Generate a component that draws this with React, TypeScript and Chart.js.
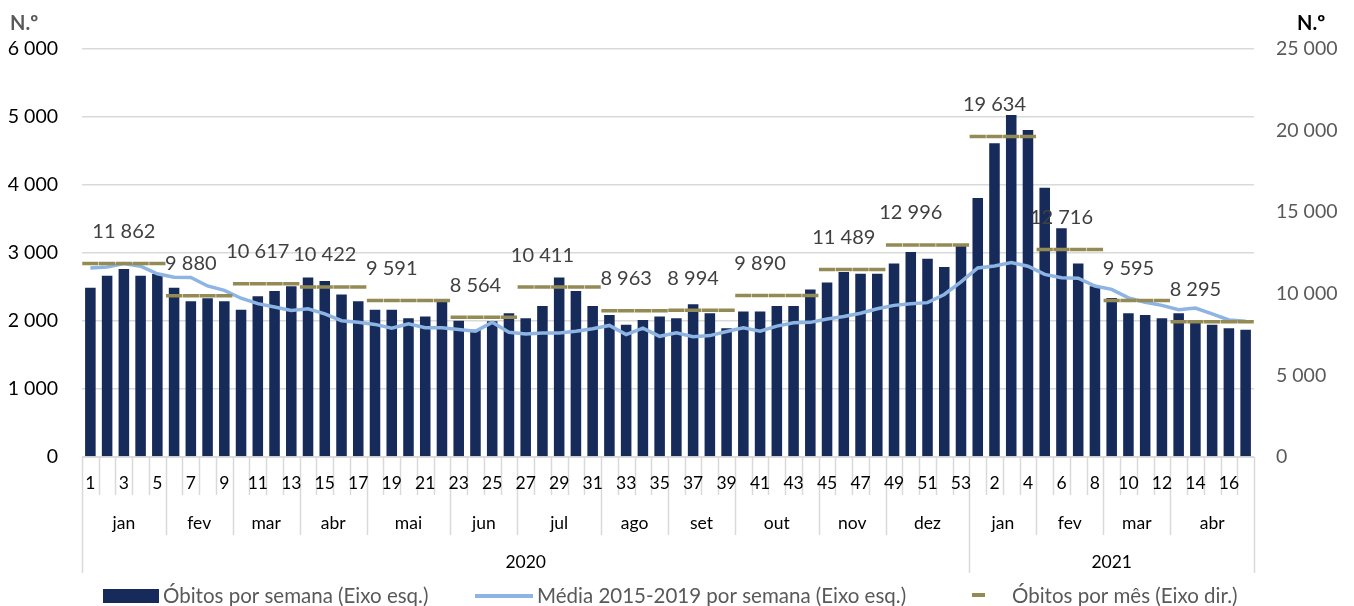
import React, { useEffect, useRef } from 'react';
import { Chart, registerables } from 'chart.js';

Chart.register(...registerables);

// ---------- DATA ----------
const weekLabels = [
  '1','2','3','4','5','6','7','8','9','10','11','12','13','14','15','16','17','18','19','20',
  '21','22','23','24','25','26','27','28','29','30','31','32','33','34','35','36','37','38','39','40',
  '41','42','43','44','45','46','47','48','49','50','51','52','53',
  '1','2','3','4','5','6','7','8','9','10','11','12','13','14','15','16','17',
];

const weeklyDeaths = [
  2490, 2665, 2765, 2665, 2690, 2490, 2290, 2335, 2290, 2165,
  2365, 2440, 2510, 2640, 2590, 2390, 2290, 2165, 2165, 2040,
  2065, 2315, 2005, 1870, 1995, 2115, 2040, 2220, 2640, 2440,
  2220, 2090, 1945, 2015, 2065, 2040, 2245, 2115, 1895, 2140,
  2140, 2220, 2220, 2465, 2565, 2720, 2695, 2695, 2845, 3015,
  2915, 2795, 3130,
  3810, 4615, 5030, 4810, 3960, 3365, 2845, 2510, 2340, 2115,
  2090, 2040, 2115, 1990, 1945, 1895, 1870,
];

const weeklyAverage = [
  2780, 2795, 2845, 2805, 2695, 2645, 2640, 2515, 2450, 2335,
  2255, 2205, 2155, 2180, 2105, 2005, 1980, 1950, 1895, 1960,
  1900, 1900, 1875, 1850, 1980, 1835, 1810, 1825, 1825, 1850,
  1885, 1935, 1800, 1895, 1775, 1825, 1770, 1785, 1845, 1900,
  1850, 1925, 1975, 1980, 2030, 2065, 2115, 2180, 2230, 2255,
  2270, 2390, 2575,
  2780, 2810, 2860, 2805, 2685, 2635, 2630, 2515, 2465, 2340,
  2275, 2230, 2165, 2190, 2105, 2015, 1995,
];

const monthNames = ['jan','fev','mar','abr','mai','jun','jul','ago','set','out','nov','dez','jan','fev','mar','abr'];
const monthWeekCounts = [5, 4, 4, 4, 5, 4, 5, 4, 4, 5, 4, 5, 4, 4, 4, 5];
const monthlyDeaths = [11862, 9880, 10617, 10422, 9591, 8564, 10411, 8963, 8994, 9890, 11489, 12996, 19634, 12716, 9595, 8295];
const monthLabelOffset = [2, 1, 1, 1, 1, 1, 1, 1, 1, 1, 1, 1, 1, 1, 1, 1];

const yearNames = ['2020', '2021'];
const yearWeekCounts = [53, 17];

const leftTicks = [0, 1000, 2000, 3000, 4000, 5000, 6000];
const rightTicks = [0, 5000, 10000, 15000, 20000, 25000];

const legendLabels = [
  'Óbitos por semana (Eixo esq.)',
  'Média 2015-2019 por semana (Eixo esq.)',
  'Óbitos por mês (Eixo dir.)',
];

// ---------- STYLE ----------
const NAVY = '#172B5B';
const LIGHTBLUE = '#8DB4E2';
const OLIVE = '#948A54';
const GRID = '#D9D9D9';
const FONT = 'Lato, "Open Sans", sans-serif';

const fmt = (n: number) => String(n).replace(/\B(?=(\d{3})+(?!\d))/g, ' ');

// monthly value repeated for every week of its month (table for the library)
const monthlyPerWeek: number[] = [];
monthWeekCounts.forEach((c, m) => {
  for (let k = 0; k < c; k++) monthlyPerWeek.push(monthlyDeaths[m]);
});

const overlayPlugin = {
  id: 'overlay',
  afterDatasetsDraw(chart: any) {
    const { ctx, chartArea, scales } = chart;
    const x = scales.x;
    const y1 = scales.y1;
    const half = (x.getPixelForValue(1) - x.getPixelForValue(0)) / 2;
    const edge = (i: number) => x.getPixelForValue(i) - half;
    const bottom = chartArea.bottom;
    const weekRowEnd = 495;
    const monthRowEnd = 535;
    const yearRowEnd = 573;

    ctx.save();
    ctx.strokeStyle = GRID;
    ctx.lineWidth = 1.5;
    ctx.beginPath();
    ctx.moveTo(chartArea.left, bottom);
    ctx.lineTo(chartArea.right, bottom);
    ctx.stroke();

    const monthStarts = new Set<number>();
    let acc = 0;
    monthWeekCounts.forEach((c) => { monthStarts.add(acc); acc += c; });
    monthStarts.add(acc);
    const yearStarts = new Set<number>();
    acc = 0;
    yearWeekCounts.forEach((c) => { yearStarts.add(acc); acc += c; });
    yearStarts.add(acc);

    for (let i = 0; i <= weekLabels.length; i++) {
      const px = Math.round(edge(i)) + 0.5;
      let end = weekRowEnd;
      if (monthStarts.has(i)) end = monthRowEnd;
      if (yearStarts.has(i)) end = yearRowEnd;
      ctx.beginPath();
      ctx.moveTo(px, bottom);
      ctx.lineTo(px, end);
      ctx.stroke();
    }

    // week labels
    ctx.fillStyle = '#000';
    ctx.textAlign = 'center';
    ctx.textBaseline = 'middle';
    ctx.font = `17.5px ${FONT}`;
    weekLabels.forEach((w, i) => {
      if (i % 2 === 0) ctx.fillText(w, x.getPixelForValue(i), 483);
    });

    // month labels
    acc = 0;
    monthNames.forEach((mName, m) => {
      const c = monthWeekCounts[m];
      const cx = (edge(acc) + edge(acc + c)) / 2;
      ctx.fillText(mName, cx, 523);
      acc += c;
    });

    // year labels
    acc = 0;
    yearNames.forEach((yName, k) => {
      const c = yearWeekCounts[k];
      const cx = (edge(acc) + edge(acc + c)) / 2;
      ctx.fillText(yName, cx, 562);
      acc += c;
    });

    // monthly data labels
    ctx.fillStyle = '#404040';
    ctx.font = `20px ${FONT}`;
    acc = 0;
    monthlyDeaths.forEach((v, m) => {
      const idx = acc + monthLabelOffset[m];
      ctx.fillText(fmt(v), x.getPixelForValue(idx), y1.getPixelForValue(v) - 32);
      acc += monthWeekCounts[m];
    });

    // axis titles
    ctx.font = `bold 20px ${FONT}`;
    ctx.textAlign = 'left';
    ctx.fillStyle = '#595959';
    ctx.fillText('N.º', 10, 24);
    ctx.fillStyle = '#000';
    ctx.fillText('N.º', 1297, 24);

    // legend
    const ly = 596;
    ctx.font = `20.5px ${FONT}`;
    ctx.fillStyle = NAVY;
    ctx.fillRect(103, ly - 7, 56, 14);
    ctx.fillStyle = '#595959';
    ctx.fillText(legendLabels[0], 163, ly);
    ctx.fillStyle = LIGHTBLUE;
    ctx.fillRect(475, ly - 2, 58, 4);
    ctx.fillStyle = '#595959';
    ctx.fillText(legendLabels[1], 537, ly);
    ctx.fillStyle = OLIVE;
    ctx.fillRect(972, ly - 3, 13, 4);
    ctx.fillStyle = '#595959';
    ctx.fillText(legendLabels[2], 1012, ly);

    ctx.restore();
  },
};

export default function App() {
  const ref = useRef<HTMLCanvasElement | null>(null);

  useEffect(() => {
    if (!ref.current) return;
    const chart = new Chart(ref.current, {
      type: 'bar',
      data: {
        labels: weekLabels,
        datasets: [
          {
            type: 'bar',
            label: legendLabels[0],
            data: weeklyDeaths,
            backgroundColor: NAVY,
            barPercentage: 0.63,
            categoryPercentage: 1,
            yAxisID: 'y',
            order: 3,
          } as any,
          {
            type: 'line',
            label: legendLabels[1],
            data: weeklyAverage,
            borderColor: LIGHTBLUE,
            borderWidth: 3.5,
            pointRadius: 0,
            tension: 0,
            yAxisID: 'y',
            order: 2,
          } as any,
          {
            type: 'line',
            label: legendLabels[2],
            data: monthlyPerWeek,
            showLine: false,
            pointStyle: 'line',
            pointRadius: 8.1,
            pointBorderWidth: 3.5,
            pointBorderColor: OLIVE,
            pointBackgroundColor: OLIVE,
            yAxisID: 'y1',
            order: 1,
          } as any,
        ],
      },
      options: {
        responsive: false,
        animation: false,
        events: [],
        layout: { padding: { top: 49, bottom: 149, left: 0, right: 0 } },
        plugins: {
          legend: { display: false },
          tooltip: { enabled: false },
        },
        scales: {
          x: { display: false },
          y: {
            position: 'left',
            min: 0,
            max: 6000,
            afterBuildTicks: (s: any) => { s.ticks = leftTicks.map((v) => ({ value: v })); },
            afterFit: (s: any) => { s.width = 82; },
            ticks: {
              padding: 24,
              color: '#000',
              font: { family: FONT, size: 19.5 },
              callback: (v: any) => fmt(Number(v)),
            },
            grid: { color: GRID, lineWidth: 1.5, drawTicks: false },
            border: { display: false },
          },
          y1: {
            position: 'right',
            min: 0,
            max: 25000,
            afterBuildTicks: (s: any) => { s.ticks = rightTicks.map((v) => ({ value: v })); },
            afterFit: (s: any) => { s.width = 100; },
            ticks: {
              padding: 22,
              color: '#595959',
              font: { family: FONT, size: 19.5 },
              callback: (v: any) => fmt(Number(v)),
            },
            grid: { display: false, drawTicks: false },
            border: { display: false },
          },
        },
      } as any,
      plugins: [overlayPlugin],
    });
    return () => chart.destroy();
  }, []);

  return (
    <div style={{ position: 'absolute', left: 0, top: 0, width: 1354, height: 606, background: '#fff' }}>
      <canvas ref={ref} width={1354} height={606} style={{ display: 'block' }} />
    </div>
  );
}
